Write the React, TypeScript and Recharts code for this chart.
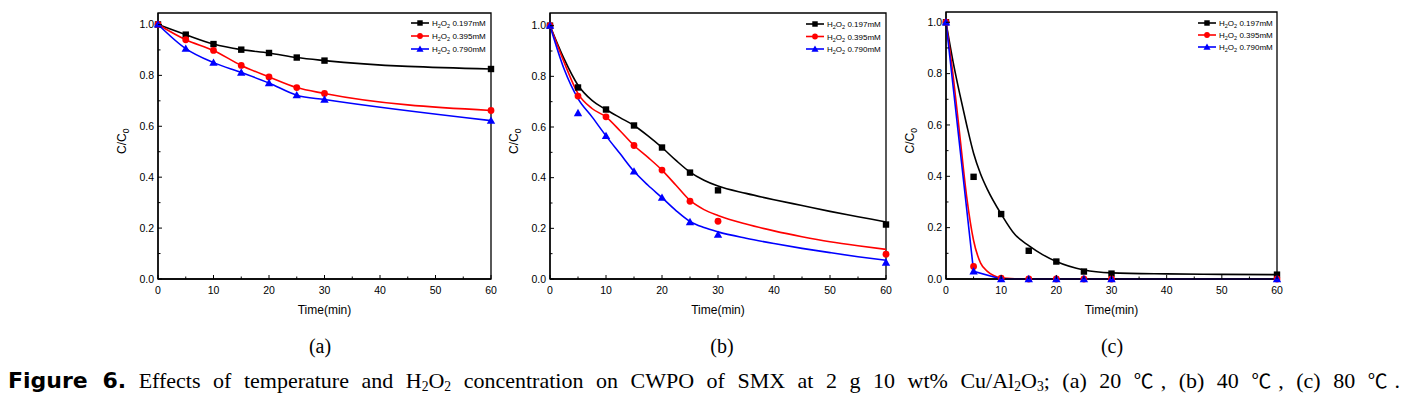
import React from 'react'
import { ComposedChart, Line, XAxis, YAxis, ReferenceArea, Legend, Label } from 'recharts'

// sampling times (min) of the measured points
const TIME = [0, 5, 10, 15, 20, 25, 30, 60]
const X_TICKS = [0, 5, 10, 15, 20, 25, 30, 35, 40, 45, 50, 55, 60]
const Y_TICKS = [0, 0.1, 0.2, 0.3, 0.4, 0.5, 0.6, 0.7, 0.8, 0.9, 1.0]
const CONC = ['0.197mM', '0.395mM', '0.790mM']

// (a) 20 ℃ — measured C/C0
const A_197 = [1.0, 0.96, 0.923, 0.901, 0.888, 0.87, 0.858, 0.825]
const A_395 = [1.0, 0.94, 0.898, 0.839, 0.794, 0.752, 0.729, 0.662]
const A_790 = [1.0, 0.905, 0.85, 0.811, 0.77, 0.722, 0.705, 0.622]

// (b) 40 ℃ — measured points
const B_197 = [1.0, 0.756, 0.669, 0.606, 0.519, 0.42, 0.35, 0.215]
const B_395 = [1.0, 0.722, 0.64, 0.527, 0.43, 0.307, 0.228, 0.098]
const B_790 = [1.0, 0.655, 0.565, 0.425, 0.321, 0.225, 0.175, 0.065]
// (b) fitted curves
const B_FIT_T = [0, 2.5, 5, 7.5, 10, 12.5, 15, 17.5, 20, 22.5, 25, 27.5, 30, 35, 40, 45, 50, 55, 60]
const B_FIT_197 = [1.0, 0.87, 0.765, 0.705, 0.669, 0.637, 0.606, 0.565, 0.519, 0.468, 0.422, 0.39, 0.367, 0.338, 0.313, 0.29, 0.267, 0.246, 0.225]
const B_FIT_395 = [1.0, 0.857, 0.732, 0.673, 0.64, 0.585, 0.527, 0.48, 0.43, 0.37, 0.31, 0.274, 0.251, 0.217, 0.19, 0.167, 0.147, 0.131, 0.117]
const B_FIT_790 = [1.0, 0.83, 0.712, 0.64, 0.565, 0.495, 0.425, 0.37, 0.321, 0.27, 0.227, 0.203, 0.186, 0.161, 0.14, 0.121, 0.104, 0.088, 0.074]

// (c) 80 ℃ — measured points
const C_197 = [1.0, 0.398, 0.253, 0.11, 0.068, 0.029, 0.021, 0.017]
const C_395 = [1.0, 0.049, 0.003, 0, 0, 0, 0, 0]
const C_790 = [1.0, 0.03, 0, 0, 0, 0, 0, 0]
// (c) fitted curves
const C_FIT_T = [0, 1.25, 2.5, 3.75, 5, 6.25, 7.5, 10, 12.5, 15, 17.5, 20, 25, 30, 40, 50, 60]
const C_FIT_197 = [1.0, 0.85, 0.72, 0.6, 0.49, 0.41, 0.349, 0.253, 0.173, 0.13, 0.095, 0.068, 0.035, 0.024, 0.02, 0.018, 0.017]
const C_FIT_395 = [1.0, 0.8, 0.56, 0.32, 0.15, 0.063, 0.03, 0.005, 0.001, 0, 0, 0, 0, 0, 0, 0, 0]

const COLORS = ['#000000', '#ff0000', '#0000ff']
const SHAPES = ['square', 'circle', 'triangle']
const FONT = '"Liberation Sans", Arial, sans-serif'
const SERIF = '"Liberation Serif", "Times New Roman", serif'

const H = 320
const AXIS_W = 50
const X_AXIS_H = 41
const PLOT_BOTTOM = H - X_AXIS_H

const rows = (ts: number[], vs: number[]) => ts.map((t, i) => ({ t, v: vs[i] }))

function Marker({ cx, cy, shape, color, s = 1 }: { cx: number; cy: number; shape: string; color: string; s?: number }) {
  if (shape === 'square') {
    const h = 3.2 * s
    return <rect x={cx - h} y={cy - h} width={2 * h} height={2 * h} fill={color} />
  }
  if (shape === 'circle') return <circle cx={cx} cy={cy} r={3.4 * s} fill={color} />
  const r = 4.2 * s
  return <polygon points={`${cx},${cy - r} ${cx + r},${cy + r * 0.75} ${cx - r},${cy + r * 0.75}`} fill={color} />
}

const dotOf = (k: number) => (p: any) =>
  p.cx == null ? <g key={p.index} /> : <Marker key={p.index} cx={p.cx} cy={p.cy} shape={SHAPES[k]} color={COLORS[k]} />

function XTick({ x, payload }: any) {
  const v = payload.value
  const major = v % 10 === 0
  return (
    <g>
      <line x1={x} x2={x} y1={PLOT_BOTTOM} y2={PLOT_BOTTOM - (major ? 4 : 2.5)} stroke="#000" strokeWidth={1} />
      {major && (
        <text x={x} y={PLOT_BOTTOM + 15} textAnchor="middle" fontSize={10.5} fontFamily={FONT} fill="#000">
          {v}
        </text>
      )}
    </g>
  )
}

function YTick({ y, payload }: any) {
  const v = payload.value
  const major = Math.round(v * 10) % 2 === 0
  return (
    <g>
      <line x1={AXIS_W} x2={AXIS_W + (major ? 4 : 2.5)} y1={y} y2={y} stroke="#000" strokeWidth={1} />
      {major && (
        <text x={AXIS_W - 4} y={y + 3.7} textAnchor="end" fontSize={10.5} fontFamily={FONT} fill="#000">
          {v.toFixed(1)}
        </text>
      )}
    </g>
  )
}

function YTitle({ viewBox }: any) {
  const x = viewBox.x + viewBox.width - 32
  const y = viewBox.y + viewBox.height / 2 + 8
  return (
    <text transform={`translate(${x},${y}) rotate(-90)`} fontSize={12} fontFamily={FONT} fill="#000">
      C/C<tspan fontSize={8.5} dy={3}>0</tspan>
    </text>
  )
}

function XTitle({ viewBox }: any) {
  return (
    <text x={viewBox.x + viewBox.width / 2} y={viewBox.y + 35} textAnchor="middle" fontSize={12} fontFamily={FONT} fill="#000">
      Time(min)
    </text>
  )
}

function LegendBox({ gap }: { gap: number }) {
  return (
    <svg width={90} height={gap * 3 + 4} style={{ display: 'block', overflow: 'visible' }}>
      {CONC.map((c, k) => {
        const y = 6 + k * gap
        return (
          <g key={c}>
            <line x1={0} x2={18} y1={y} y2={y} stroke={COLORS[k]} strokeWidth={1.6} />
            <Marker cx={9} cy={y} shape={SHAPES[k]} color={COLORS[k]} s={0.85} />
            <text x={21} y={y + 3} fontSize={8} fontFamily={FONT} fill="#000">
              H<tspan fontSize={5.5} dy={2}>2</tspan>
              <tspan dy={-2}>O</tspan>
              <tspan fontSize={5.5} dy={2}>2</tspan>
              <tspan dy={-2}> {c}</tspan>
            </text>
          </g>
        )
      })}
    </svg>
  )
}

type Series = { data: { t: number; v: number }[]; k: number; type: 'monotone' | 'linear'; line: boolean; dots: boolean }

function Panel({ left, plotW, top, yMax, legend, series }: {
  left: number; plotW: number; top: number; yMax: number; legend: { x: number; y: number; gap: number }; series: Series[]
}) {
  return (
    <div style={{ position: 'absolute', left, top: 0 }}>
      <ComposedChart width={AXIS_W + plotW + 10} height={H} margin={{ top, right: 10, bottom: 0, left: 0 }}>
        <XAxis
          dataKey="t" type="number" domain={[0, 60]} ticks={X_TICKS} interval={0} height={X_AXIS_H}
          tick={<XTick />} tickLine={false} axisLine={{ stroke: '#000', strokeWidth: 1.3 }}
        >
          <Label content={<XTitle />} />
        </XAxis>
        <YAxis
          type="number" domain={[0, yMax]} ticks={Y_TICKS} interval={0} width={AXIS_W}
          tick={<YTick />} tickLine={false} axisLine={{ stroke: '#000', strokeWidth: 1.3 }}
        >
          <Label content={<YTitle />} />
        </YAxis>
        <ReferenceArea x1={0} x2={60} y1={0} y2={yMax} fill="none" stroke="#000" strokeWidth={1.3} />
        {series.map((s, i) => (
          <Line
            key={i} data={s.data} dataKey="v" type={s.type} isAnimationActive={false}
            stroke={s.line ? COLORS[s.k] : 'none'} strokeWidth={1.6}
            dot={s.dots ? dotOf(s.k) : false} activeDot={false} legendType="none"
          />
        ))}
        <Legend
          layout="horizontal" verticalAlign="middle" align="center"
          wrapperStyle={{ left: legend.x, top: legend.y, width: 'auto' }}
          content={() => <LegendBox gap={legend.gap} />}
        />
      </ComposedChart>
    </div>
  )
}

const captionSub = { fontSize: '0.62em', verticalAlign: '-0.25em', lineHeight: 0 }
const degC = { fontFamily: '"Noto Sans CJK KR", sans-serif', fontSize: '0.9em' }

export default function App() {
  const a: Series[] = [
    { data: rows(TIME, A_197), k: 0, type: 'monotone', line: true, dots: true },
    { data: rows(TIME, A_395), k: 1, type: 'monotone', line: true, dots: true },
    { data: rows(TIME, A_790), k: 2, type: 'monotone', line: true, dots: true },
  ]
  const b: Series[] = [
    { data: rows(B_FIT_T, B_FIT_197), k: 0, type: 'monotone', line: true, dots: false },
    { data: rows(TIME, B_197), k: 0, type: 'linear', line: false, dots: true },
    { data: rows(B_FIT_T, B_FIT_395), k: 1, type: 'monotone', line: true, dots: false },
    { data: rows(TIME, B_395), k: 1, type: 'linear', line: false, dots: true },
    { data: rows(B_FIT_T, B_FIT_790), k: 2, type: 'monotone', line: true, dots: false },
    { data: rows(TIME, B_790), k: 2, type: 'linear', line: false, dots: true },
  ]
  const c: Series[] = [
    { data: rows(C_FIT_T, C_FIT_197), k: 0, type: 'monotone', line: true, dots: false },
    { data: rows(TIME, C_197), k: 0, type: 'linear', line: false, dots: true },
    { data: rows(C_FIT_T, C_FIT_395), k: 1, type: 'monotone', line: true, dots: false },
    { data: rows(TIME, C_395), k: 1, type: 'linear', line: false, dots: true },
    { data: rows(TIME, C_790), k: 2, type: 'linear', line: true, dots: true },
  ]
  const sub = { fontFamily: SERIF, fontSize: 20, color: '#000' }
  return (
    <div style={{ position: 'absolute', left: 0, top: 0, width: 1413, height: 400, background: '#fff', overflow: 'hidden' }}>
      <Panel left={108} plotW={333} top={13} yMax={1.045} legend={{ x: 303, y: 17, gap: 13 }} series={a} />
      <Panel left={500} plotW={336} top={13} yMax={1.05} legend={{ x: 306, y: 18, gap: 12.5 }} series={b} />
      <Panel left={896} plotW={331} top={12} yMax={1.04} legend={{ x: 302, y: 17, gap: 12 }} series={c} />

      <div style={{ ...sub, position: 'absolute', left: 290, top: 335, width: 60, textAlign: 'center' }}>(a)</div>
      <div style={{ ...sub, position: 'absolute', left: 692, top: 335, width: 60, textAlign: 'center' }}>(b)</div>
      <div style={{ ...sub, position: 'absolute', left: 1082, top: 335, width: 60, textAlign: 'center' }}>(c)</div>

      <div
        style={{
          ...sub, fontSize: 22, position: 'absolute', left: 8, top: 366, width: 1392,
          textAlign: 'justify', textAlignLast: 'justify', lineHeight: '28px',
        }}
      >
        <span style={{ fontFamily: '"DejaVu Sans", sans-serif', fontWeight: 'bold', fontSize: 22 }}>Figure 6.</span> Effects of
        temperature and H<sub style={captionSub}>2</sub>O<sub style={captionSub}>2</sub> concentration on CWPO of SMX at 2 g 10
        wt% Cu/Al<sub style={captionSub}>2</sub>O<sub style={captionSub}>3</sub>; (a) 20 <span style={degC}>℃</span>, (b) 40{' '}
        <span style={degC}>℃</span>, (c) 80 <span style={degC}>℃</span>.
      </div>
    </div>
  )
}
